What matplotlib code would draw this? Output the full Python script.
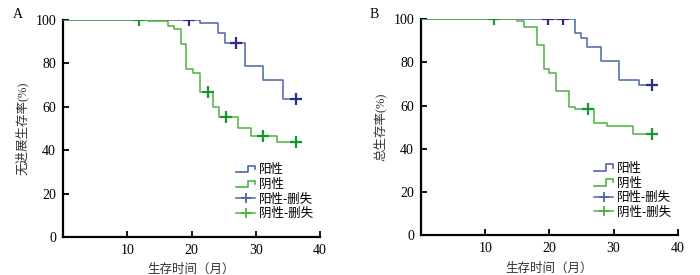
import numpy as np
import matplotlib
matplotlib.use("Agg")
import matplotlib.pyplot as plt
from matplotlib.lines import Line2D
from matplotlib.legend_handler import HandlerBase

plt.rcParams['font.family'] = ['Liberation Serif', 'Noto Sans CJK SC', 'DejaVu Sans']

# ---- data ----
panel_labels = ["A", "B"]
y_labels = ["无进展生存率(%)", "总生存率(%)"]
x_label = "生存时间（月）"
legend_labels = ["阳性", "阴性", "阳性-删失", "阴性-删失"]
x_ticks = [10, 20, 30, 40]
y_ticks = [0, 20, 40, 60, 80, 100]

# Panel A (PFS)
a_pos_t = [0, 21.3, 24.2, 25.2, 28.3, 31.2, 34.3, 36.2]
a_pos_s = [100, 98.5, 93.9, 89.5, 78.9, 72.4, 63.6, 63.6]
a_pos_cens = [19.6, 26.9, 36.2]
a_neg_t = [0, 13.3, 16.3, 17.2, 18.3, 19.2, 20.3, 21.3, 23.3, 24.3, 27.2, 29.2, 33.3, 36.3]
a_neg_s = [100, 99.4, 97.2, 95.7, 88.8, 77.6, 75.4, 67.0, 59.8, 55.2, 50.2, 46.7, 43.9, 43.9]
a_neg_cens = [11.8, 22.6, 25.4, 31.1, 36.3]

# Panel B (OS)
b_pos_t = [0, 24.0, 25.0, 25.9, 28.0, 30.9, 33.9, 36.0]
b_pos_s = [100, 93.4, 91.2, 87.0, 80.6, 71.8, 69.5, 69.5]
b_pos_cens = [19.8, 22.1, 36.0]
b_neg_t = [0, 15.0, 16.0, 18.1, 19.1, 20.0, 21.0, 23.0, 24.0, 27.0, 29.0, 33.0, 36.0]
b_neg_s = [100, 99.1, 96.4, 88.2, 76.7, 74.9, 66.8, 59.1, 58.3, 51.8, 50.6, 46.8, 46.8]
b_neg_cens = [11.3, 26.1, 36.0]

pos_line = "#4a67a6"
neg_line = "#4fb043"
pos_mark = "#2e2d86"
neg_mark = "#17972a"


def step_at(t, s, x):
    t = np.asarray(t); s = np.asarray(s)
    idx = np.searchsorted(t, x, side="right") - 1
    return s[idx]


class StepHandler(HandlerBase):
    def __init__(self, color):
        super().__init__()
        self.color = color

    def create_artists(self, legend, orig_handle, xdescent, ydescent, width, height, fontsize, trans):
        x0, x1 = -xdescent, -xdescent + width
        xm = x0 + width * 0.6
        ylo = -ydescent + height * 0.1
        yhi = -ydescent + height * 0.85
        ymid = -ydescent + height * 0.5
        ln = Line2D([x0, xm, xm, x1, x1], [ylo, ylo, yhi, yhi, ymid],
                    color=self.color, lw=1.2, transform=trans)
        return [ln]


fig = plt.figure(figsize=(7, 2.75), dpi=100)
positions = [
    [63 / 700, 1 - 237 / 275, (320 - 63) / 700, (237 - 20) / 275],
    [421 / 700, 1 - 235.3 / 275, (677.7 - 421) / 700, (235.3 - 19) / 275],
]
datasets = [
    (a_pos_t, a_pos_s, a_pos_cens, a_neg_t, a_neg_s, a_neg_cens),
    (b_pos_t, b_pos_s, b_pos_cens, b_neg_t, b_neg_s, b_neg_cens),
]
label_x = [13 / 700, 370 / 700]

for i in range(2):
    ax = fig.add_axes(positions[i])
    pt, ps, pc, nt, ns, nc = datasets[i]
    h1, = ax.step(pt, ps, where="post", color=pos_line, lw=1.1, zorder=2)
    h2, = ax.step(nt, ns, where="post", color=neg_line, lw=1.1, zorder=3)
    ax.plot(pc, step_at(pt, ps, pc), ls="none", marker="+", ms=8, mew=1.6,
            color=pos_mark, zorder=4)
    ax.plot(nc, step_at(nt, ns, nc), ls="none", marker="+", ms=8, mew=1.6,
            color=neg_mark, zorder=5)
    h3l = Line2D([], [], color=pos_line, marker="+", ms=6.5, mew=1.3, lw=1.1)
    h4l = Line2D([], [], color=neg_line, marker="+", ms=6.5, mew=1.3, lw=1.1)
    ax.set_xlim(0, 40)
    ax.set_ylim(0, 100)
    ax.set_xticks(x_ticks)
    ax.set_yticks(y_ticks)
    for sp in ["top", "right"]:
        ax.spines[sp].set_visible(False)
    for sp in ["left", "bottom"]:
        ax.spines[sp].set_linewidth(1.6)
    ax.tick_params(direction="in", length=4, width=1.3, labelsize=10, pad=5)
    ax.set_ylabel(y_labels[i], fontsize=9, color="#333333", labelpad=5)
    ax.set_xlabel(x_label, fontsize=9, color="#333333", labelpad=5)
    ax.legend([h1, h2, h3l, h4l], legend_labels,
              handler_map={h1: StepHandler(pos_line), h2: StepHandler(neg_line)},
              loc="upper left", bbox_to_anchor=(0.675, 0.335), frameon=False,
              fontsize=9, handlelength=1.5, handletextpad=0.3,
              labelspacing=0.2, borderpad=0, borderaxespad=0)
    fig.text(label_x[i], 1 - 14 / 275, panel_labels[i], fontsize=10, va="center")

fig.savefig("out.png", dpi=100)
